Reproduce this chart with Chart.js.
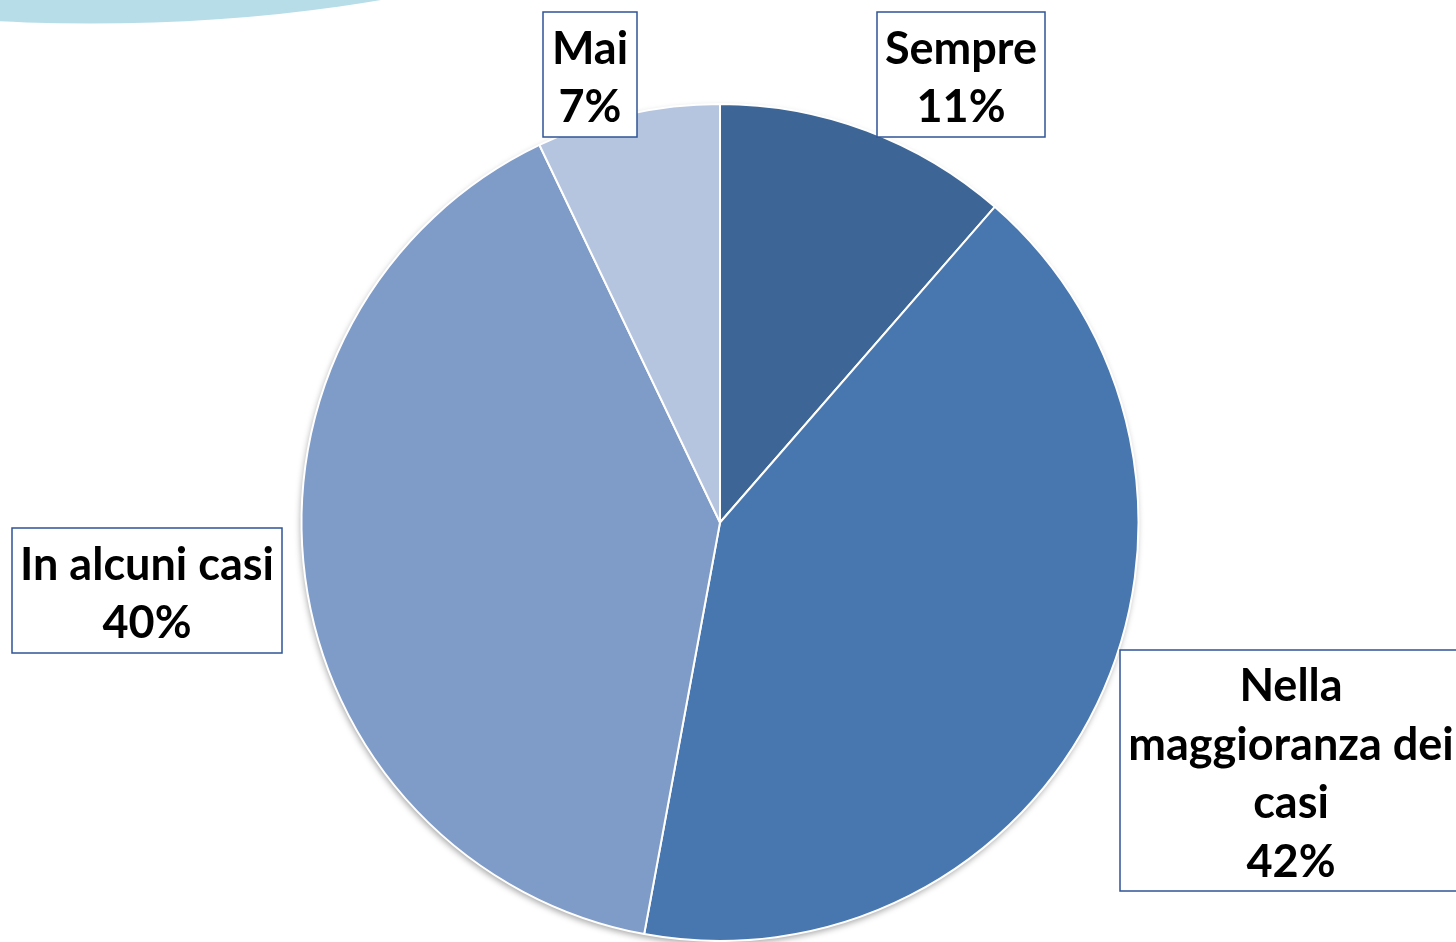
<!DOCTYPE html>
<html>
<head>
<meta charset="utf-8">
<script src="https://cdn.jsdelivr.net/npm/chart.js@4"></script>
<style>
  html, body { margin: 0; padding: 0; background: #fff; }
  #wrap { width: 1456px; height: 942px; position: relative; }
</style>
</head>
<body>
<div id="wrap"><canvas id="c"></canvas></div>
<script>
// categorie e valori (in senso orario dall'alto)
let labels = ["Sempre", "Nella maggioranza dei casi", "In alcuni casi", "Mai"]
let values = [11.4, 41.5, 40.0, 7.1]
let percentuali = ["11%", "42%", "40%", "7%"]
let colors = ["#3D6696", "#4877B0", "#7F9BC7", "#B5C4DF"]

// righe di testo delle etichette e posizione dei riquadri
let labelLines = [["Sempre"], ["Nella", "maggioranza dei", "casi"], ["In alcuni casi"], ["Mai"]]
let boxes = [
    { x: 877, y: 12, w: 168, h: 125 },
    { x: 1120, y: 650, w: 345, h: 241 },
    { x: 12, y: 528, w: 270, h: 125 },
    { x: 543, y: 12, w: 94, h: 125 }
]

// decorazione azzurra in alto a sinistra + ombra della torta
let sfondo = {
    id: 'sfondo',
    beforeDraw(chart) {
        let ctx = chart.ctx
        ctx.save()
        ctx.fillStyle = '#B7DDE8'
        ctx.beginPath()
        ctx.ellipse(90, -200, 652, 223.5, 0, 0, Math.PI * 2)
        ctx.fill()
        ctx.restore()
    },
    beforeDatasetsDraw(chart) {
        let arc = chart.getDatasetMeta(0).data[0]
        if (!arc) return
        let ctx = chart.ctx
        ctx.save()
        ctx.shadowColor = 'rgba(0,0,0,0.35)'
        ctx.shadowBlur = 6
        ctx.shadowOffsetX = -1
        ctx.shadowOffsetY = 3
        ctx.fillStyle = '#fff'
        ctx.beginPath()
        ctx.arc(arc.x, arc.y, arc.outerRadius, 0, Math.PI * 2)
        ctx.fill()
        ctx.restore()
    }
}

// etichette con riquadro bordato
let etichette = {
    id: 'etichette',
    afterDraw(chart) {
        let ctx = chart.ctx
        ctx.save()
        ctx.font = 'bold 45px Lato'
        ctx.textAlign = 'center'
        ctx.textBaseline = 'middle'
        for (let i = 0; i < boxes.length; i++) {
            let b = boxes[i]
            ctx.fillStyle = '#fff'
            ctx.fillRect(b.x, b.y, b.w, b.h)
            ctx.strokeStyle = '#2F5496'
            ctx.lineWidth = 1.5
            ctx.strokeRect(b.x, b.y, b.w, b.h)
            let lines = labelLines[i].concat([percentuali[i]])
            let lh = 58.5
            let y0 = b.y + b.h / 2 - (lines.length - 1) * lh / 2 + 4
            ctx.fillStyle = '#000'
            for (let j = 0; j < lines.length; j++) {
                let cx = b.x + b.w / 2
                if (i == 1) cx = 1291
                ctx.fillText(lines[j], cx, y0 + j * lh)
            }
        }
        ctx.restore()
    }
}

let c = document.getElementById("c")
let torta = new Chart(c, {
    type: 'pie',
    data: {
        labels: labels,
        datasets: [{
            data: values,
            backgroundColor: colors,
            borderColor: '#fff',
            borderWidth: 2
        }]
    },
    options: {
        responsive: true,
        maintainAspectRatio: false,
        animation: false,
        layout: { padding: { top: 103, bottom: 0, left: 0, right: 16 } },
        plugins: {
            legend: { display: false },
            tooltip: { enabled: false }
        }
    },
    plugins: [sfondo, etichette]
})
</script>
</body>
</html>
